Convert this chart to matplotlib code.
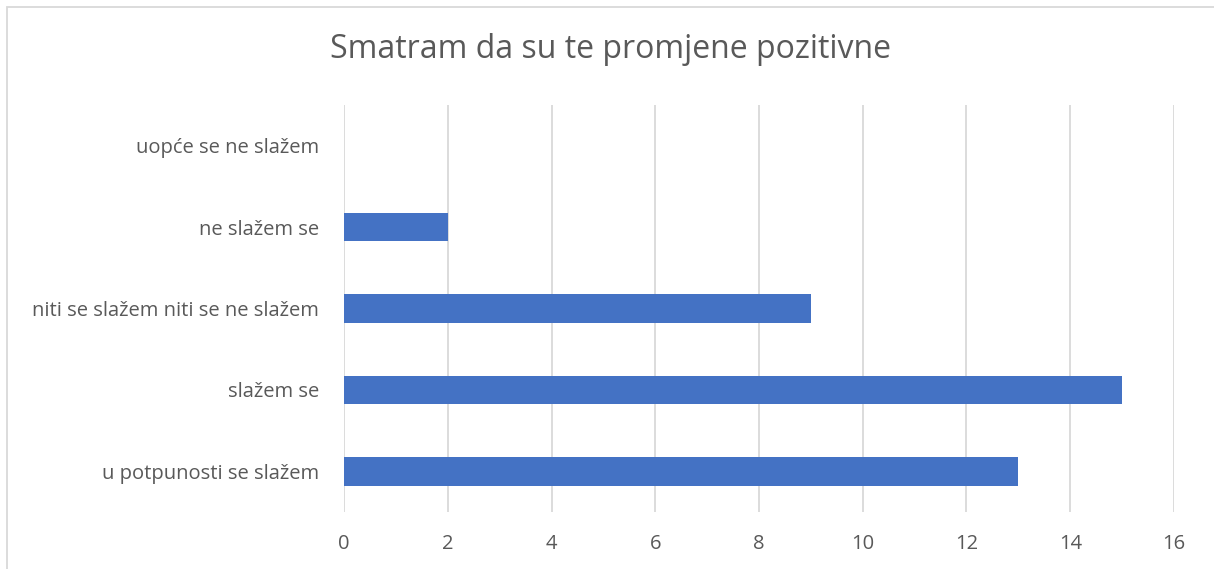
import matplotlib.pyplot as plt
from matplotlib.patches import Rectangle

categories = ['u potpunosti se slažem', 'slažem se', 'niti se slažem niti se ne slažem',
              'ne slažem se', 'uopće se ne slažem']
values = [13, 15, 9, 2, 0]
xticks = [0, 2, 4, 6, 8, 10, 12, 14, 16]

plt.rcParams['font.family'] = ['Open Sans', 'DejaVu Sans']
text_color = '#595959'

fig = plt.figure(figsize=(12.14, 5.69), dpi=100)
ax = fig.add_axes([344 / 1214, 1 - 512 / 569, 830 / 1214, 407 / 569])

ax.barh(range(len(categories)), values, height=0.35, color='#4472C4', zorder=3)
ax.set_xlim(0, 16)
ax.set_ylim(-0.5, len(categories) - 0.5)
ax.set_xticks(xticks)
ax.set_xticklabels([str(t) for t in xticks])
ax.set_yticks(range(len(categories)))
ax.set_yticklabels(categories)
ax.tick_params(axis='both', length=0, labelsize=14.5, colors=text_color)
ax.tick_params(axis='x', pad=16)
ax.tick_params(axis='y', pad=18)
ax.grid(axis='x', color='#D9D9D9', linewidth=1.3, zorder=0)
for s in ax.spines.values():
    s.set_visible(False)

fig.text(0.5026, 1 - 50 / 569, 'Smatram da su te promjene pozitivne', ha='center', va='center',
         fontsize=23, color=text_color)

# chart frame (only left and top edges fall inside the picture)
fig.patches.append(Rectangle((7 / 1214, -0.05), 1.5, 1 - 7 / 569 + 0.05, transform=fig.transFigure,
                             fill=False, edgecolor='#D9D9D9', linewidth=1.3))

fig.savefig('out.png', dpi=100)
